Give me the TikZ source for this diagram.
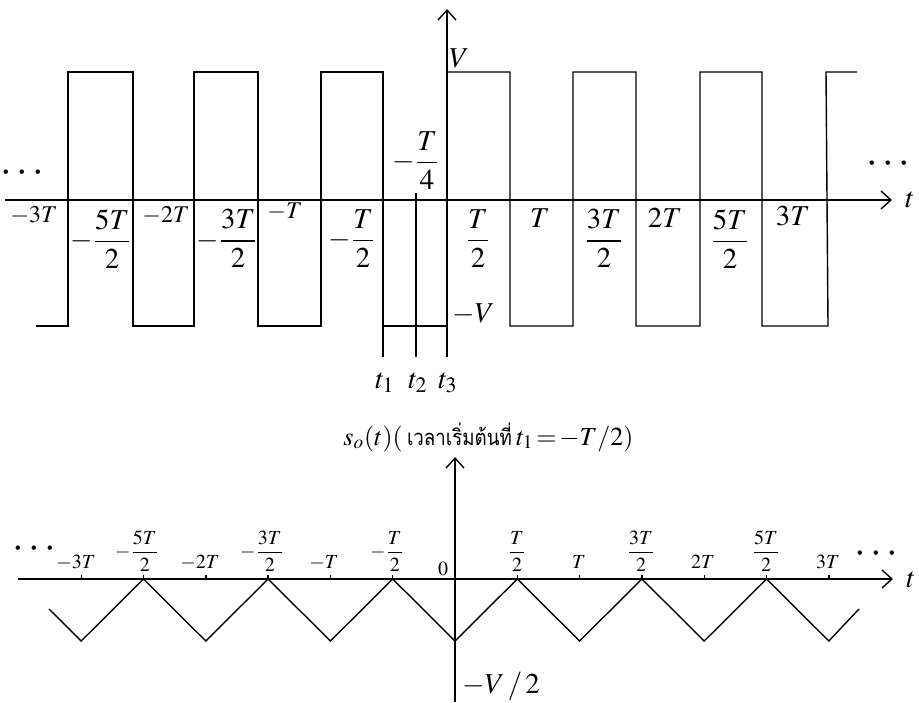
\documentclass[tikz,border=0pt]{standalone}
\usepackage{mathptmx}
\usepackage[no-math]{fontspec}
\newfontfamily\thaifont[Script=Thai, FakeStretch=0.85]{Loma}
\usetikzlibrary{arrows.meta}
\tikzset{
	axis/.style={black, line width=0.7pt, -{Straight Barb[length=5pt,width=9pt]}},
	wave/.style={black, line width=0.7pt},
	lbl/.style={inner sep=0pt, font=\Large},
	smlbl/.style={inner sep=0pt, font=\large},
	tinylbl/.style={inner sep=0pt, font=\normalsize},
	dotlbl/.style={inner sep=0pt, font=\huge},
}
\begin{document}
\begin{tikzpicture}[x=0.5pt, y=-0.5pt]
	\useasboundingbox (0,0) rectangle (919,702);
	
	\draw[axis] (5,200) -- (892,200);
	\draw[axis] (447,357) -- (447,9);
	\draw[wave] (36,326) -| (68,72) -| (133,326) -| (194,72) -| (258,326) -| (321,72) -| (383,326) -- (447,326);
	\draw[wave] (447,72) -| (510,326) -| (573,72) -| (636,326) -| (700,72) -| (762,326) -- (828,326) -- (826,72) -- (857,72);
	\draw[wave] (383,326) -- (383,357);
	\draw[wave] (416,193) -- (416,357);
	
	\node[dotlbl] (dotsA) at (22,173) {$\cdots$};
	\node[dotlbl] (dotsB) at (888,164) {$\cdots$};
	\node[lbl, anchor=base west] (tA) at (905,207) {$t$};
	\node[lbl, anchor=base west] (vhi) at (449,67) {$V$};
	\node[lbl, anchor=base west] (vlo) at (452,322) {$-V$};
	\node[lbl, anchor=north] (quart) at (416,131) {$-\displaystyle\frac{T}{4}$};
	\node[lbl, anchor=base] (t1) at (385,388) {$t_1$};
	\node[lbl, anchor=base] (t2) at (418,388) {$t_2$};
	\node[lbl, anchor=base] (t3) at (448,388) {$t_3$};
	
	\node[smlbl, anchor=base] (a1) at (34,222) {$-3T$};
	\node[lbl, anchor=north] (a2) at (101,209) {$-\displaystyle\frac{5T}{2}$};
	\node[smlbl, anchor=base] (a3) at (166,222) {$-2T$};
	\node[lbl, anchor=north] (a4) at (227,209) {$-\displaystyle\frac{3T}{2}$};
	\node[smlbl, anchor=base] (a5) at (285,218) {$-T$};
	\node[lbl, anchor=north] (a6) at (352,209) {$-\displaystyle\frac{T}{2}$};
	\node[lbl, anchor=north] (a7) at (478,209) {$\displaystyle\frac{T}{2}$};
	\node[lbl, anchor=base] (a8) at (540,227) {$T$};
	\node[lbl, anchor=north] (a9) at (604,209) {$\displaystyle\frac{3T}{2}$};
	\node[lbl, anchor=base] (a10) at (665,227) {$2T$};
	\node[lbl, anchor=north] (a11) at (730,209) {$\displaystyle\frac{5T}{2}$};
	\node[lbl, anchor=base] (a12) at (793,225) {$3T$};
	
	\draw[axis] (18,579) -- (893,579);
	\draw[axis] (455,702) -- (455,457);
	\foreach \k in {-6,...,6}
		\draw[wave] ({455+62.3*\k},579) -- ++(0,-4);
	\draw[wave] (49,609) \foreach \k in {-6,...,6} { -- ({455+62.3*\k},{610+31*cos(180*\k)}) } -- (859,609);
	
	\node[anchor=base west, inner sep=0pt, font=\fontsize{13}{15}\selectfont] (title) at (343,445) {$s_o(t)($\,{\thaifont\fontsize{11}{13}\selectfont เวลาเริ่มต้นที่}\,$t_1\!=\!-T/2)$};
	\node[dotlbl] (dotsC) at (34,549) {$\cdots$};
	\node[dotlbl] (dotsD) at (876,554) {$\cdots$};
	\node[lbl, anchor=base west] (tB) at (906,587) {$t$};
	\node[lbl, anchor=base west] (vhalf) at (462,693) {$-V\,/\,2$};
	\node[tinylbl, anchor=base] (zero) at (443,575) {$0$};
	
	\node[tinylbl, anchor=base] (b1) at (76,568) {$-3T$};
	\node[tinylbl, anchor=south] (b2) at (137,572) {$-\displaystyle\frac{5T}{2}$};
	\node[tinylbl, anchor=base] (b3) at (200,568) {$-2T$};
	\node[tinylbl, anchor=south] (b4) at (262,572) {$-\displaystyle\frac{3T}{2}$};
	\node[tinylbl, anchor=base] (b5) at (324,568) {$-T$};
	\node[tinylbl, anchor=south] (b6) at (387,572) {$-\displaystyle\frac{T}{2}$};
	\node[tinylbl, anchor=south] (b7) at (517,572) {$\displaystyle\frac{T}{2}$};
	\node[tinylbl, anchor=base] (b8) at (579,568) {$T$};
	\node[tinylbl, anchor=south] (b9) at (641,572) {$\displaystyle\frac{3T}{2}$};
	\node[tinylbl, anchor=base] (b10) at (703,568) {$2T$};
	\node[tinylbl, anchor=south] (b11) at (766,572) {$\displaystyle\frac{5T}{2}$};
	\node[tinylbl, anchor=base] (b12) at (828,568) {$3T$};
\end{tikzpicture}
\end{document}
